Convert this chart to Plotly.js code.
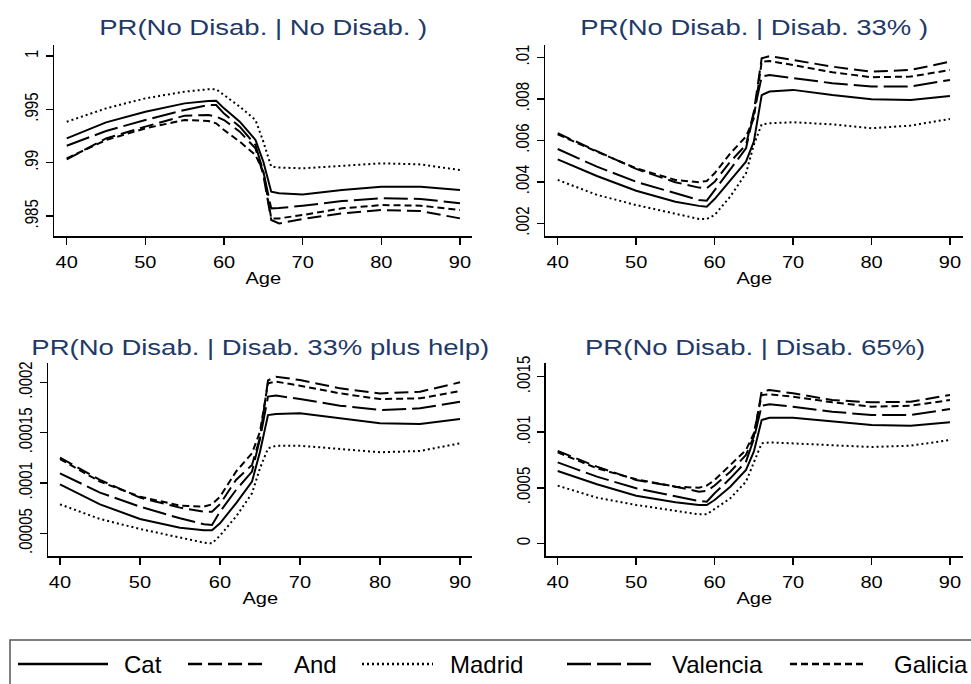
<!DOCTYPE html>
<html>
<head>
<meta charset="utf-8">
<script src="https://cdn.plot.ly/plotly-3.0.1.min.js"></script>
<style>
html,body{margin:0;padding:0;background:#fff;}
#chart{width:971px;height:684px;}
</style>
</head>
<body>
<div id="chart"></div>
<script>
// ---------- DATA ----------
const ages = [40,45,50,55,58,59,60,62,64,65,66,67,70,75,80,85,90];
const regions = ['Cat','And','Madrid','Valencia','Galicia'];
const panelTitles = [
  'PR(No Disab. | No Disab. )',
  'PR(No Disab. | Disab. 33% )',
  'PR(No Disab. | Disab. 33% plus help)',
  'PR(No Disab. | Disab. 65%)'
];
const xTickVals = [40,50,60,70,80,90];

// Panel 1: PR(No Disab. | No Disab.)
const noDisCat      = [.99228,.99378,.99478,.99556,.99578,.99581,.99509,.99384,.99213,.99009,.98728,.98713,.98703,.98744,.98775,.98775,.98744];
const noDisAnd      = [.99031,.99228,.99338,.99441,.99447,.99431,.99400,.99291,.99134,.98884,.98463,.98431,.98472,.98525,.98556,.98547,.98478];
const noDisMadrid   = [.99384,.99509,.99603,.99666,.99688,.99688,.99634,.99525,.99400,.99197,.98963,.98955,.98947,.98972,.98994,.98984,.98931];
const noDisValencia = [.99159,.99297,.99400,.99494,.99540,.99540,.99460,.99338,.99166,.98916,.98572,.98575,.98597,.98640,.98666,.98660,.98619];
const noDisGalicia  = [.99041,.99212,.99322,.99400,.99391,.99369,.99306,.99197,.99072,.98916,.98478,.98478,.98510,.98572,.98603,.98597,.98556];
const noDisTicks = [.985,.99,.995,1];
const noDisTickText = ['.985','.99','.995','1'];

// Panel 2: PR(No Disab. | Disab. 33%)
const d33Cat      = [.00508,.00428,.00357,.00304,.00284,.00280,.00317,.00409,.00497,.00594,.00818,.00835,.00843,.00818,.00798,.00794,.00814];
const d33And      = [.00634,.00549,.00462,.00398,.00372,.00369,.00400,.00497,.00578,.00738,.00995,.01006,.00987,.00955,.00931,.00939,.00979];
const d33Madrid   = [.00409,.00337,.00288,.00248,.00221,.00221,.00240,.00329,.00441,.00578,.00677,.00682,.00687,.00677,.00658,.00671,.00703];
const d33Valencia = [.00558,.00473,.00400,.00345,.00312,.00309,.00360,.00457,.00561,.00730,.00907,.00915,.00899,.00875,.00859,.00859,.00891];
const d33Galicia  = [.00629,.00545,.00465,.00409,.00398,.00404,.00441,.00537,.00618,.00706,.00979,.00982,.00963,.00928,.00904,.00907,.00939];
const d33Ticks = [.002,.004,.006,.008,.01];
const d33TickText = ['.002','.004','.006','.008','.01'];

// Panel 3: PR(No Disab. | Disab. 33% plus help)
const d33hCat      = [.0000987,.0000788,.0000642,.0000556,.0000530,.0000530,.0000599,.0000798,.0001013,.0001311,.0001675,.0001685,.0001692,.0001642,.0001593,.0001586,.0001636];
const d33hAnd      = [.0001252,.0001030,.0000854,.0000755,.0000715,.0000715,.0000790,.0001030,.0001180,.0001450,.0002020,.0002056,.0002023,.0001940,.0001890,.0001907,.0002000];
const d33hMadrid   = [.0000788,.0000642,.0000543,.0000457,.0000407,.0000400,.0000477,.0000666,.0000897,.0001146,.0001344,.0001370,.0001370,.0001338,.0001305,.0001318,.0001394];
const d33hValencia = [.0001096,.0000904,.0000765,.0000649,.0000589,.0000583,.0000715,.0000930,.0001113,.0001440,.0001858,.0001868,.0001834,.0001768,.0001725,.0001742,.0001808];
const d33hGalicia  = [.0001238,.0001013,.0000864,.0000775,.0000765,.0000788,.0000864,.0001113,.0001295,.0001510,.0001990,.0002007,.0001967,.0001890,.0001834,.0001841,.0001914];
const d33hTicks = [.00005,.0001,.00015,.0002];
const d33hTickText = ['.00005','.0001','.00015','.0002'];

// Panel 4: PR(No Disab. | Disab. 65%)
const d65Cat      = [.000651,.000531,.000429,.000369,.000345,.000345,.000390,.000510,.000660,.000825,.001110,.001131,.001131,.001095,.001065,.001059,.001089];
const d65And      = [.000831,.000690,.000570,.000510,.000465,.000471,.000520,.000645,.000795,.000960,.001371,.001380,.001350,.001290,.001269,.001275,.001335];
const d65Madrid   = [.000519,.000411,.000345,.000291,.000261,.000261,.000309,.000405,.000555,.000735,.000900,.000909,.000900,.000885,.000867,.000879,.000930];
const d65Valencia = [.000729,.000600,.000495,.000420,.000381,.000375,.000450,.000585,.000735,.000940,.001239,.001251,.001230,.001185,.001155,.001155,.001209];
const d65Galicia  = [.000819,.000675,.000576,.000510,.000500,.000519,.000570,.000705,.000840,.000990,.001335,.001341,.001320,.001269,.001230,.001239,.001290];
const d65Ticks = [0,.0005,.001,.0015];
const d65TickText = ['0','.0005','.001','.0015'];

// ---------- STYLE / LAYOUT ----------
const lineDashes = ['solid','14px,6px','2px,3px','24px,6px','7px,4px'];
const FONT = 'Liberation Sans, Arial, Helvetica, sans-serif';
const W = 971, H = 684;
const px = v => v / W;
const py = v => 1 - v / H;

const panels = [
  {series:[noDisCat,noDisAnd,noDisMadrid,noDisValencia,noDisGalicia], ticks:noDisTicks, tickText:noDisTickText,
   xd:[54.3,471.7], yd:[236,45], xr:[38.42,91.49], yr:[0.98313,1.00103], titleY:27, ageY:278},
  {series:[d33Cat,d33And,d33Madrid,d33Valencia,d33Galicia], ticks:d33Ticks, tickText:d33TickText,
   xd:[545,963.3], yd:[236,45], xr:[38.38,91.70], yr:[0.001388,0.010593], titleY:27, ageY:278},
  {series:[d33hCat,d33hAnd,d33hMadrid,d33hValencia,d33hGalicia], ticks:d33hTicks, tickText:d33hTickText,
   xd:[48.3,471.7], yd:[556,363], xr:[38.54,91.46], yr:[0.00002745,0.0002192], titleY:347, ageY:598},
  {series:[d65Cat,d65And,d65Madrid,d65Valencia,d65Galicia], ticks:d65Ticks, tickText:d65TickText,
   xd:[545.7,963.3], yd:[556,363], xr:[38.47,91.70], yr:[-0.0001143,0.0016233], titleY:347, ageY:598}
];

const traces = [];
const layout = {
  width: W, height: H, autosize: false,
  margin: {l:0, r:0, t:0, b:0, pad:0},
  paper_bgcolor: '#ffffff', plot_bgcolor: '#ffffff',
  showlegend: false,
  font: {family: FONT, color: '#000'},
  annotations: [], shapes: []
};

panels.forEach((p, i) => {
  const n = i === 0 ? '' : String(i + 1);
  p.series.forEach((ys, s) => {
    traces.push({
      type: 'scatter', mode: 'lines', name: regions[s],
      x: ages, y: ys,
      xaxis: 'x' + n, yaxis: 'y' + n,
      line: {color: '#000', width: 2, dash: lineDashes[s]},
      hoverinfo: 'skip'
    });
  });
  layout['xaxis' + n] = {
    domain: [px(p.xd[0]), px(p.xd[1])], range: p.xr, anchor: 'y' + n,
    showgrid: false, zeroline: false, showline: true, linecolor: '#000', linewidth: 1.5,
    ticks: 'outside', ticklen: 7, tickwidth: 1.5, tickcolor: '#000',
    tickvals: xTickVals, ticktext: xTickVals.map(String),
    tickfont: {family: FONT, size: 16, color: '#000'}, ticklabelstandoff: 4, automargin: false
  };
  layout['yaxis' + n] = {
    domain: [py(p.yd[0]), py(p.yd[1])], range: p.yr, anchor: 'x' + n,
    showgrid: false, zeroline: false, showline: true, linecolor: '#000', linewidth: 1.5,
    ticks: 'outside', ticklen: 7, tickwidth: 1.5, tickcolor: '#000',
    tickvals: p.ticks, ticktext: p.tickText, tickangle: -90,
    tickfont: {family: FONT, size: 15, color: '#000'}, ticklabelstandoff: 3, automargin: false
  };
  const cx = px((p.xd[0] + p.xd[1]) / 2);
  layout.annotations.push({
    xref: 'paper', yref: 'paper', x: cx, y: py(p.titleY), xanchor: 'center', yanchor: 'middle',
    text: panelTitles[i], showarrow: false, font: {family: FONT, size: 22, color: '#1f3a68'}
  });
  layout.annotations.push({
    xref: 'paper', yref: 'paper', x: cx, y: py(p.ageY), xanchor: 'center', yanchor: 'middle',
    text: 'Age', showarrow: false, font: {family: FONT, size: 16, color: '#000'}
  });
});

// legend box (drawn as shapes + annotations so the long line samples match)
const legLineX = [[18,108],[188,267],[362,433],[567,655],[790,867]];
const legTextX = [122,292,448,670,892];
const legY = 664;
layout.shapes.push({type:'rect', xref:'paper', yref:'paper', x0:px(10), x1:px(990), y0:py(700), y1:py(640),
  line:{color:'#555', width:1.5}, fillcolor:'rgba(0,0,0,0)'});
regions.forEach((r, s) => {
  layout.shapes.push({type:'line', xref:'paper', yref:'paper',
    x0:px(legLineX[s][0]), x1:px(legLineX[s][1]), y0:py(legY), y1:py(legY),
    line:{color:'#000', width:2.4, dash:lineDashes[s]}});
  layout.annotations.push({xref:'paper', yref:'paper', x:px(legTextX[s]), y:py(legY),
    xanchor:'left', yanchor:'middle', text:r, showarrow:false,
    font:{family:FONT, size:24, color:'#000'}});
});

Plotly.newPlot('chart', traces, layout, {staticPlot: true, displayModeBar: false}).then(gd => {
  const s = 1.25;
  gd.querySelectorAll('g.xaxislayer-above text').forEach(t => {
    const tr = t.getAttribute('transform') || '';
    t.setAttribute('transform', tr + ' scale(' + s + ',1)');
  });
  gd.querySelectorAll('g.yaxislayer-above text').forEach(t => {
    const tr = t.getAttribute('transform') || '';
    t.setAttribute('transform', tr + ' scale(1,' + s + ')');
  });
  gd.querySelectorAll('text.annotation-text').forEach(t => {
    if (regions.includes(t.textContent)) return;
    t.style.transformBox = 'fill-box';
    t.style.transformOrigin = 'center';
    t.style.transform = 'scaleX(' + s + ')';
  });
});
</script>
</body>
</html>
